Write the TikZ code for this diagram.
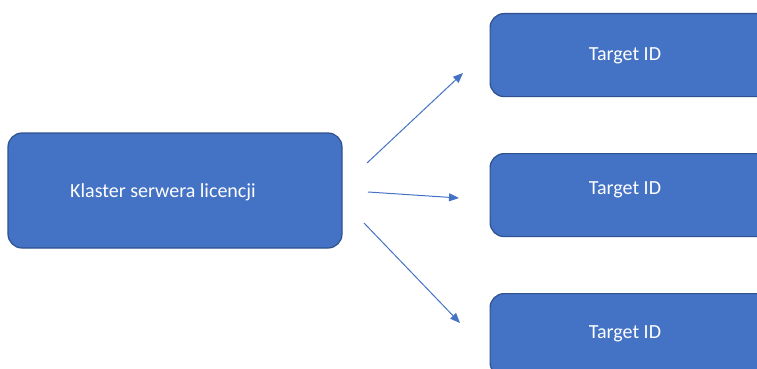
\documentclass[tikz,border=0pt]{standalone}
\usepackage{fontspec}
\setmainfont{Carlito}
\usetikzlibrary{arrows.meta,positioning}
\definecolor{fillblue}{HTML}{4472C4}
\definecolor{edgeblue}{HTML}{2F528F}
\definecolor{arrowblue}{HTML}{4472C4}
\tikzset{
  box/.style={rounded corners=14pt,draw=edgeblue,fill=fillblue,line width=1.2pt,
              inner sep=0pt,align=center,text=white,font=\fontsize{20}{24}\selectfont},
  clusterbox/.style={box,minimum width=334pt,minimum height=115pt},
  targetbox/.style={box,minimum width=290pt,minimum height=83pt},
  label/.style={text=white,font=\fontsize{20}{24}\selectfont},
  link/.style={-{Triangle[length=10pt,width=8pt]},line width=1pt,draw=arrowblue}
}
\begin{document}
\begin{tikzpicture}[x=1pt,y=-1pt]
        \useasboundingbox (0,0) rectangle (757,369);
        \node[clusterbox] (cluster) at (175,190.5) {};
        \node[label] (lc) at (163,192) {Klaster serwera licencji};
        \node[targetbox,anchor=north west] (t1) at (489.5,13) {};
        \node[targetbox,anchor=north west] (t2) at (489.5,153) {};
        \node[targetbox,anchor=north west] (t3) at (489.5,293) {};
        \node[label] (l1) at (625,56) {Target ID};
        \node[label] (l2) at (625,190) {Target ID};
        \node[label] (l3) at (625,334) {Target ID};
        % arrow ends
        \coordinate (a1) at (367,163); \coordinate (b1) at (463,73);
        \coordinate (a2) at (368,192); \coordinate (b2) at (459,198);
        \coordinate (a3) at (364,223); \coordinate (b3) at (460,323);
        \draw[link] (a1) -- (b1);
        \draw[link] (a2) -- (b2);
        \draw[link] (a3) -- (b3);
      \end{tikzpicture}
\end{document}
